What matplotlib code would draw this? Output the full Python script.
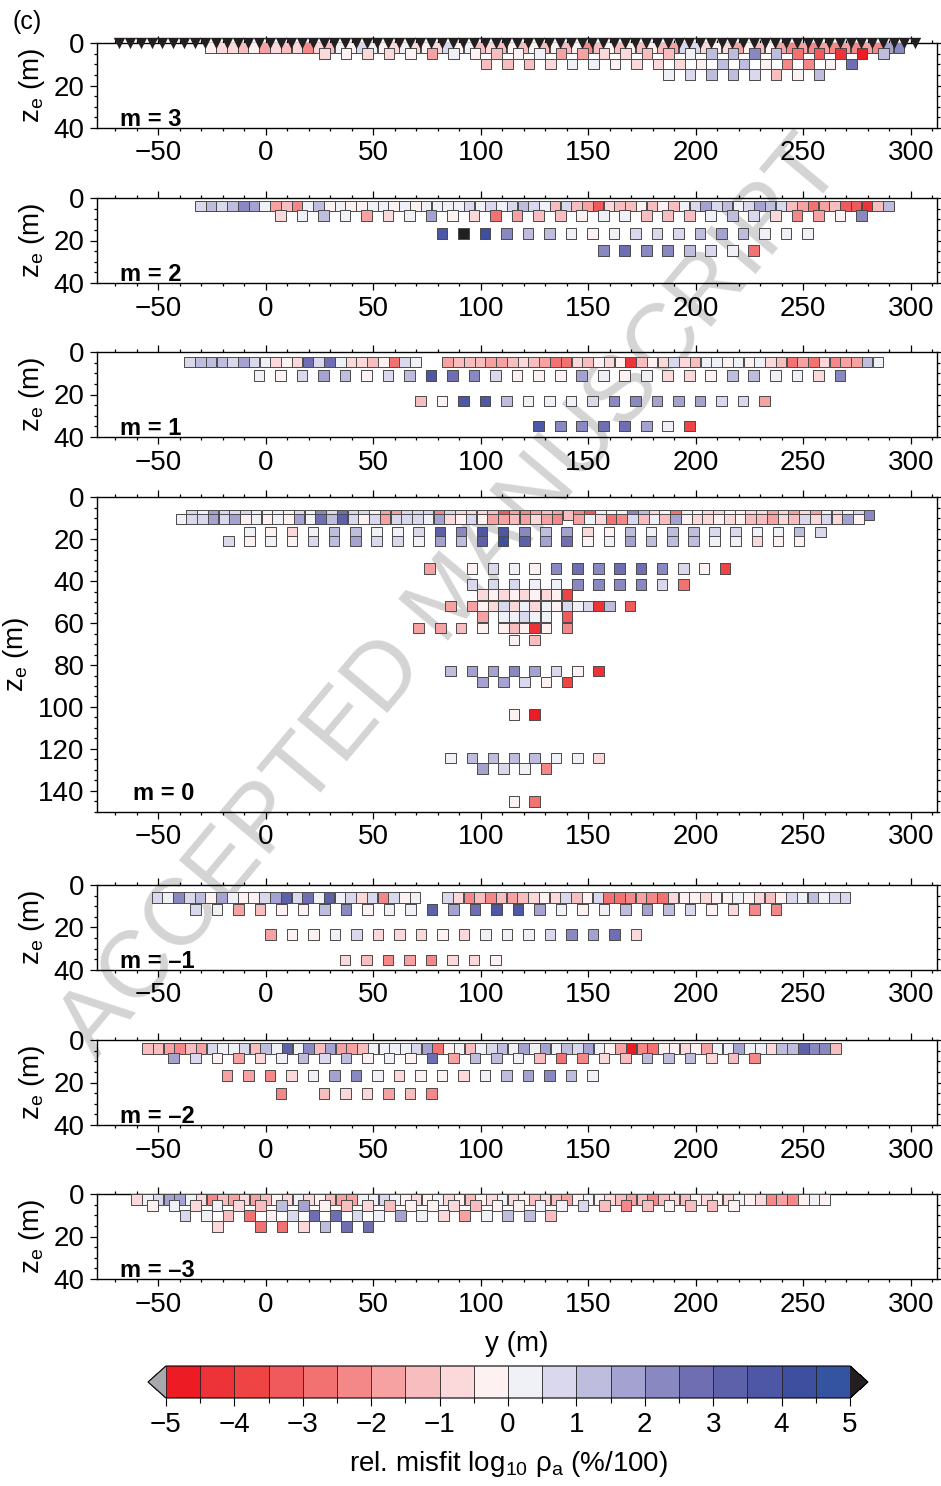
import numpy as np
import matplotlib
matplotlib.use("Agg")
import matplotlib.pyplot as plt
from matplotlib.colors import ListedColormap, BoundaryNorm
from matplotlib.cm import ScalarMappable

plt.rcParams['font.family'] = ['Liberation Sans', 'DejaVu Sans']
plt.rcParams['mathtext.fontset'] = 'custom'
plt.rcParams['mathtext.rm'] = 'Liberation Sans'
plt.rcParams['mathtext.it'] = 'Liberation Sans:italic'

nan = np.nan

# ---------------- colour scale ----------------
cbar_bounds = np.arange(-5, 5.01, 0.5)
cbar_ticks = np.arange(-5, 6, 1)
bin_colors = ['#ED1C24', '#EE3338', '#EF4444', '#F15A5D', '#F27171', '#F48888',
              '#F6A2A3', '#F8BDBE', '#FBD8D9', '#FDF1F2', '#F0F1F7', '#D9D8EC',
              '#BFBDDE', '#A4A2D0', '#8A88C1', '#6F6EB3', '#5D61AA', '#4D57A5',
              '#3F4F9F', '#3454A1']
under_color = '#A7A9AC'
over_color = '#231F20'

# ---------------- data: m = 3 ----------------
m3_electrodes = np.arange(-68, 303, 5)
m3_A = [-0.25, -0.75, -0.75, -1.25, -0.25, -1.75, -0.75, -1.25, -0.75, -2.25,
        -0.75, -1.25, 0.25, -0.25, 0.75, 0.25, -0.25, -0.75, 0.25, -0.75,
        -0.25, -0.75, 0.75, -0.25, 0.25, -1.25, -0.75, -1.25, -0.25,
        -1.25, -0.25, -1.25, -0.25, -1.25, -0.25, -2.25, -1.25, -0.25, -1.25,
        -0.25, -1.25, -0.25, -1.25, -1.75, 0.75, 0.75, -0.75, -0.25, -0.75,
        -1.75, -0.25, -1.25, -0.25, -1.75, -2.25, -1.75, -2.25, -1.75, -2.25,
        -1.75, -2.25, -1.75, -2.25, 1.75, 2.25]
m3_B = [-0.75, -0.25, -0.75, -0.75, -0.25, -1.75, 0.25, -0.25, -1.25, -0.25,
        0.25, -1.75, -1.75, -0.75, -0.75, -1.25, -1.25, 0.25, 1.25, 1.25,
        2.25, 1.25, -2.75, -3.25, -4.25, -4.75, 1.25]
m3_C = [-1.25, -1.25, -1.25, -0.75, 0.25, 0.25, -0.25, -0.75, -0.75, -0.75,
        -0.25, 1.25, 1.25, -0.25, -2.25, -2.25, -0.25, 2.75]
m3_D = [0.25, 0.75, 1.25, 1.25, 0.75, -1.25, -0.25, 1.25]

# ---------------- data: m = 2 ----------------
m2_A = [0.75, 1.25, 0.75, 1.25, 2.25, 1.75, 0.25, -1.75, -1.25, -2.25,
        0.25, 1.25, -0.25, 0.25, -0.25, -0.25, 0.25, 0.25, -0.25, 0.25,
        -0.25, 0.25, 0.25, 0.25, 0.25, 0.75, 0.25, 0.75, 0.25, 0.75,
        1.25, 0.75, 0.25, -1.25, 0.75, -1.25, -1.75, -3.25, -0.75, -1.25,
        -1.25, -0.25, -1.25, -0.25, -1.25, 0.25, 0.75, 1.75, 0.75, 1.25,
        0.25, 0.75, 1.75, 1.25, 0.75, -1.25, -1.75, -2.75, -1.75, -1.25,
        -3.25, -3.25, -4.25, -1.25, 1.25]
m2_B = [-0.75, 0.25, 1.25, 0.25, -1.75, -0.75, 0.25, 1.75, -0.25, -0.75,
        -2.75, -1.75, -1.25, -1.25, -0.25, 0.25, 0.25, -1.25, -1.25, -1.25,
        0.25, 1.25, 0.75, -0.75, -2.25, -1.75, -0.25, 2.25]
m2_C = [3.75, 5.5, 4.25, 2.25, 1.25, 1.25, 0.25, -0.25, 0.25, 0.75,
        0.75, 0.75, 1.25, 1.75, 1.25, 0.25, 0.25, 0.25]
m2_D = [2.25, 2.75, 2.25, 2.25, 1.25, 0.75, 0.25, -2.75]

# ---------------- data: m = 1 ----------------
m1_A = [0.75, 1.25, 1.25, 1.25, 0.75, 1.75, 0.75, 0.25, -0.75, -0.25,
        -0.75, 2.75, 0.75, 2.75, 0.25, -0.75, -0.75, -1.25, -0.25, -2.75,
        0.75, 0.25, nan, nan,
        -1.75, -1.25, -1.25, -1.25, -1.75, -1.75, -1.25,
        -0.75, -1.25, -1.75, -2.75, -2.75, -0.75, -1.25, -0.25, -0.75, -0.25,
        -4.25, -1.25, -0.25, -0.75, 0.75, -0.75, -1.25, 0.25, 0.25, -0.25,
        0.25, -0.25, 0.25, -0.75, -1.25, -2.75, -1.75, -2.75, -0.75, -2.25,
        -1.75, -1.75, 1.25, 0.25]
m1_B = [0.25, -0.25, 0.75, 1.75, 1.25, -0.25, 0.75, 1.25, 3.75, 2.75,
        2.25, 0.75, -0.25, -0.25, -0.25, 1.75, 0.25, -0.25, 0.25, -0.75,
        -0.75, -0.25, 1.25, 1.25, 0.25, 0.25, -0.75, 2.25]
m1_C = [-1.25, -0.25, 3.75, 3.75, 1.25, 0.25, 0.25, 0.25, 0.75, 2.25,
        2.25, 1.75, 1.75, 1.75, 0.75, 0.75, -1.75]
m1_D = [3.75, 2.25, 2.25, 2.75, 2.75, 1.75, 0.25, -3.75]

# ---------------- data: m = 0 ----------------
m0_A1 = [0.75, 0.25, 1.75, 0.75, 0.75, 0.75, 0.25, -0.25, 0.25, -0.25,
         0.75, 0.25, 2.25, 0.75, 2.75, 0.75, 0.75, -0.25, -1.75, -1.75,
         0.75, 0.75, 0.75, -2.25, 0.75, -0.75, -0.75, -0.75, -1.25, -3.25,
         -1.75, -2.25,
         -1.75, -1.25, -1.75, -1.25, -2.25, -3.25, 0.25, -0.25, 0.25, 2.25,
         1.25, -0.75, -0.25, -2.75, 0.25, -0.25, -0.75, -0.75, -0.25, -0.25,
         -0.75, -0.75, -1.75, -0.75, -1.75, -0.75, -1.75, 0.25, -0.75, 0.25,
         0.75, 2.25]
m0_A2 = [0.25, 0.75, 0.75, 1.75, 0.75, 1.75, -0.25, 0.25, -0.25, 0.25,
         -0.25, 1.75, 0.25, 2.75, 1.25, 3.25, 0.75, -0.25, 0.75, -1.75,
         0.75, 0.75, 0.75, 0.25, 1.75, -0.75, -0.25, 0.75, -0.25, -1.75,
         -1.75, -1.25,
         -1.75, -0.75, -1.75, -2.25, nan, -1.75, 0.25, -0.75, -2.75, -2.25,
         0.75, -1.25, 0.25, -1.25, 1.75, -0.25, -0.75, -0.75, -0.25, -0.75,
         -0.25, -1.25, -1.25, -1.75, -0.75, -1.25, 0.75, -0.75, 0.75, -0.75,
         1.75, -0.25]
m0_B1 = [0.25, -0.25, -0.75, 0.25, 1.25, 1.25, 0.25, 0.25, 0.75, 3.25,
         2.25, 3.75, 3.75, 2.25, 1.25, 1.75, -0.75, -0.25, 1.25, 0.25,
         1.25, 1.25, 0.75, 0.75, 0.25, 0.25, 1.25, 0.75]
m0_B2 = [0.75, -0.25, 0.25, -0.25, 0.75, 1.25, 1.75, 0.75, 0.75, 0.25,
         1.75, 1.25, 3.25, 4.25, 3.25, 1.75, 2.75, -0.25, 0.25, 1.75,
         1.25, 1.25, 1.25, 0.25, 0.25, -0.75, -0.25, -0.25]
# deeper data points of m = 0: horizontal positions (m), values
m0_C_y = [76.1, 95.9, 105.7, 115.5, 125.1, 135.1, 145.0, 154.8, 164.6, 174.5, 184.3, 194.3, 203.9, 213.7]
m0_C = [-1.75, -0.25, 0.75, 0.25, -0.25, 2.25, 2.75, 2.25, 2.75, 2.75, 2.25, 0.75, -0.25, -3.75]
m0_D_y = [95.9, 105.7, 115.5, 125.1, 135.1, 145.0, 154.8, 164.6, 174.5, 184.3, 194.3]
m0_D = [0.75, 0.75, 0.75, 0.25, 0.25, 2.25, 2.25, 2.25, 2.25, 0.75, -2.75]
m0_E_y = [100.9, 105.7, 110.6, 115.5, 120.4, 125.1, 130.3, 135.1, 140.1]
m0_E = [-0.75, -0.25, -0.75, -0.25, -0.75, -0.25, -0.75, -0.25, -3.75]
m0_F_y = [86.1, 95.9, 100.9, 105.7, 110.6, 115.5, 120.4, 125.1, 130.3, 135.1, 140.1, 145.0, 150.0, 154.8, 159.8, 169.5]
m0_F = [-1.75, -1.75, -0.25, -0.75, 0.75, -0.75, 0.25, -0.75, 0.25, -0.25, 0.75, 0.25, 0.75, -4.25, 1.25, -3.25]
m0_G1_y = [100.9, 110.6, 115.5, 120.4, 125.1, 130.3, 140.1]
m0_G1 = [-1.75, 0.25, 0.25, 0.75, 0.25, 0.25, -3.25]
m0_G_y = [71.1, 81.2, 90.8, 100.9, 110.6, 115.5, 120.4, 125.1, 130.3, 140.1]
m0_G = [-1.75, -1.75, -1.25, -0.25, -0.25, -1.25, -0.25, -4.25, -0.25, -2.25]
m0_H_y = [115.5, 125.1]
m0_H = [-0.25, -1.25]
m0_I_y = [86.1, 95.9, 105.7, 115.5, 125.1, 135.1, 145.0, 154.8]
m0_I = [1.25, 1.75, 1.75, 2.25, 1.75, 0.75, -0.25, -4.25]
m0_J_y = [100.9, 110.6, 120.4, 130.3, 140.1]
m0_J = [1.75, 1.75, 0.75, -0.25, -3.75]
m0_K_y = [115.5, 125.1]
m0_K = [-0.25, -4.75]
m0_L_y = [86.1, 95.9, 105.7, 115.5, 125.1, 135.1, 145.0, 154.8]
m0_L = [0.25, 1.25, 1.25, 1.25, 1.25, 0.25, 0.25, -0.75]
m0_M_y = [100.9, 110.6, 120.4, 130.3]
m0_M = [1.75, 0.75, 0.25, -2.25]
m0_N_y = [115.5, 125.1]
m0_N = [-0.25, -2.75]

# ---------------- data: m = -1 ----------------
mm1_A = [0.75, 0.25, 2.25, 0.75, 1.25, -0.25, 1.75, 0.25, -0.25, -0.25,
         0.75, 1.75, 3.25, 0.75, 2.75, 0.25, 3.25, 0.25, 0.75, -0.75,
         0.75, -2.25, 0.75, -0.25, 0.25, nan, nan,
         0.75, -0.75, -2.25, -1.25, -2.25, -1.25, -1.75, -1.25, -0.75, -0.25,
         -0.75, 0.75, -1.25, -0.25, 0.75, -2.75, -2.75, -2.25, -1.75, -2.25,
         -2.75, -0.75, -0.25, -0.25, -0.75, -0.25, -0.25, 0.25, -0.25, -0.75,
         -1.25, -0.25, 0.75, 0.25, 1.25, 0.25, 0.75, 0.75]
mm1_B = [0.75, 0.25, -1.75, -1.25, -0.25, -0.25, 1.25, 2.25, -0.25, 0.25,
         0.25, 3.25, 1.75, 2.75, 3.75, 3.75, 1.75, 0.25, -0.25, 0.25,
         1.25, 1.75, 1.25, 0.75, -0.25, -0.75, -2.25, -2.25]
mm1_C = [-1.75, -0.25, -0.25, 0.25, 0.75, -0.75, -0.75, -0.75, -0.25, -0.75,
         0.25, 0.25, 0.25, 0.75, 2.25, 1.75, 2.75, -0.75]
mm1_D = [-0.75, -1.25, -2.25, -1.75, -2.25, -0.75, -0.75, -0.25]

# ---------------- data: m = -2 ----------------
mm2_A = [-1.25, -1.25, -1.75, -2.25, -1.25, -1.75, 0.75, 0.25, 0.25, 0.75,
         -1.25, 1.25, 0.25, 3.25, 0.25, 2.25, -1.25, 1.75, -1.75, -1.75,
         -1.25, 0.25, 0.25, 0.25, 0.25, 0.75, 1.75, -2.75, -0.25, 0.25,
         -1.25, 0.25, 0.75, 1.25, 0.25, 1.75, 0.25, 1.75, 0.25, 1.25,
         0.75, 1.75, 0.25, -0.25, -1.75, -4.75, -2.25, -2.75, -0.25, -0.25,
         -0.75, -0.25, -1.75, 0.25, 0.25, 1.75, 0.25, 0.25, -0.75, 1.25,
         1.25, 3.25, 2.25, 2.25, -1.25]
mm2_B = [1.75, 0.75, -0.25, -1.75, -0.75, 0.25, 1.25, 0.75, 1.25, -0.25,
         0.25, -0.25, 2.75, -1.75, 1.25, 1.25, 0.25, -1.25, -2.75, -2.25,
         -0.75, -1.25, 1.25, 1.25, 1.25, -0.75, -1.25, -2.25]
mm2_C = [-1.75, -1.75, -2.25, -0.75, 0.25, 1.75, 2.25, 0.25, -0.75, -0.25,
         -0.25, -0.75, 0.25, 1.25, 1.75, 2.25, 1.25, 0.25]
mm2_D = [-2.25, nan, -1.25, -0.75, -0.75, -1.75, -1.25, -2.25]

# ---------------- data: m = -3 ----------------
mm3_A = [-0.75, 0.25, 0.75, 1.75, 1.75, 0.25, -0.75, -2.25, -1.25, -1.75,
         -0.75, -1.75, -1.25, -0.25, -0.75, 0.25, -0.75, -0.25, -1.25, -1.75,
         -1.75, 0.25, 0.25, 0.75, 0.25, -0.25, -0.75, -0.25, 0.25, -0.75,
         -0.25, -1.25, -0.25, -0.75, 0.25, -0.75, -0.25, -1.25, -0.75, -1.25,
         -1.75, -0.25, 0.25, -0.25, -0.75, -1.25, -1.75, -1.25, -2.25, -1.25,
         -0.75, -1.25, -0.25, -0.75, -0.25, -0.75, 0.25, -0.25, -0.75, -2.25,
         -1.75, -2.25, -0.25, 0.25, -0.25]
mm3_B = [-0.25, 0.25, -0.75, 0.25, -0.75, -1.25, 1.25, 1.75, -0.25, -1.25,
         -0.75, -1.25, -0.25, -0.25, -0.75, -1.25, -0.25, -0.25, 0.25, 0.25,
         0.75, -1.25, -2.25, -1.25, -0.25, -1.25, -1.25, -0.25]
mm3_C = [0.75, 0.25, -1.25, -2.75, -0.25, 0.75, 2.75, 2.75, 0.75, 0.25,
         1.75, 0.25, -0.75, -1.75, 0.25, 1.25, 1.25, -1.25]
mm3_D = [-0.75, nan, -2.75, -2.75, -0.75, 1.25, 2.75, 2.75]

# rows: (first position, spacing, depth, values)
panels = [
    (3, 40, [(-25.5, 5, 2.1, m3_A), (27.4, 10, 5.0, m3_B), (102.4, 10, 9.9, m3_C), (187.4, 10, 14.8, m3_D)], []),
    (2, 40, [(-30.4, 5, 3.8, m2_A), (7, 10, 8.2, m2_B), (82, 10, 16.6, m2_C), (157, 10, 24.8, m2_D)], []),
    (1, 40, [(-35.3, 5, 4.7, m1_A), (-3, 10, 11.1, m1_B), (72, 10, 23.1, m1_C), (127, 10, 34.9, m1_D)], []),
    (0, 150, [(-34.4, 5, 8.6, m0_A1), (-39.4, 5, 10.4, m0_A2), (-7.47, 9.83, 16.7, m0_B1), (-17.3, 9.83, 20.9, m0_B2)],
     [(m0_C_y, 34.1, m0_C), (m0_D_y, 41.7, m0_D), (m0_E_y, 46.5, m0_E), (m0_F_y, 51.8, m0_F),
      (m0_G1_y, 56.9, m0_G1), (m0_G_y, 62.4, m0_G), (m0_H_y, 68.0, m0_H), (m0_I_y, 82.9, m0_I),
      (m0_J_y, 88.0, m0_J), (m0_K_y, 103.7, m0_K), (m0_L_y, 124.3, m0_L), (m0_M_y, 129.3, m0_M),
      (m0_N_y, 145.0, m0_N)]),
    (-1, 40, [(-50.5, 5, 5.9, mm1_A), (-32.6, 10, 11.6, mm1_B), (2.2, 10, 23.4, mm1_C), (37, 10, 35.2, mm1_D)], []),
    (-2, 40, [(-55, 5, 4.1, mm2_A), (-42.7, 10, 8.4, mm2_B), (-18, 10, 16.7, mm2_C), (7.2, 10, 25.1, mm2_D)], []),
    (-3, 40, [(-60, 5, 2.5, mm3_A), (-52.5, 10, 5.3, mm3_B), (-37.4, 10, 10.0, mm3_C), (-22.3, 10, 15.2, mm3_D)], []),
]

# ---------------- figure ----------------
W, H = 941, 1486
fig = plt.figure(figsize=(W / 100, H / 100), dpi=100)
cmap = ListedColormap(bin_colors)
cmap.set_under(under_color)
cmap.set_over(over_color)
norm = BoundaryNorm(cbar_bounds, cmap.N)

frames = {3: (43, 128), 2: (198, 283), 1: (352, 437), 0: (497, 812),
          -1: (885, 970), -2: (1040, 1125), -3: (1194, 1279)}
LEFT, RIGHT = 97, 937
MS = 7.6
EDGE = '#4a4a4a'
FS = 20


def scatter_row(ax, xs, z, vals):
    v = np.asarray(vals, float)
    xs = np.asarray(xs, float)
    ok = ~np.isnan(v)
    ax.scatter(xs[ok], np.full(ok.sum(), z), c=v[ok], cmap=cmap, norm=norm,
               marker='s', s=MS ** 2, edgecolors=EDGE, linewidths=0.7, zorder=3)


axes = []
for m, zmax, rows, extra in panels:
    top, bot = frames[m]
    ax = fig.add_axes([LEFT / W, 1 - bot / H, (RIGHT - LEFT) / W, (bot - top) / H])
    ax.set_facecolor('none')
    axes.append(ax)
    for x0, dx, z, vals in rows:
        xs = x0 + dx * np.arange(len(vals))
        scatter_row(ax, xs, z, vals)
    for xs, z, vals in extra:
        scatter_row(ax, xs, z, vals)
    if m == 3:
        ax.scatter(m3_electrodes, np.zeros(len(m3_electrodes)), marker='v', s=8.2 ** 2,
                   c='#231F20', linewidths=0, clip_on=False, zorder=6)
    ax.set_xlim(-78.4, 312.2)
    ax.set_ylim(zmax, 0)
    ax.set_xticks(np.arange(-50, 301, 50))
    ax.set_xticks(np.arange(-70, 311, 10), minor=True)
    ax.set_yticks(np.arange(0, zmax + 1, 20))
    ax.set_yticks(np.arange(0, zmax + 1, 5), minor=True)
    ax.tick_params(which='both', direction='out', top=True, right=True,
                   labeltop=False, labelright=False, width=0.9, labelsize=FS)
    ax.tick_params(which='major', length=5, pad=4)
    ax.tick_params(which='minor', length=2.5)
    for s in ax.spines.values():
        s.set_linewidth(1.0)
    ax.set_ylabel('z$_\\mathregular{e}$ (m)', fontsize=FS, labelpad=5)
    lab = 'm = %d' % m if m >= 0 else 'm = \u2013%d' % (-m)
    ypos = 0.038 if m == 0 else 0.024
    xpos = 0.043 if m == 0 else 0.027
    ax.text(xpos, ypos, lab, transform=ax.transAxes, fontsize=17,
            fontweight='bold', ha='left', va='baseline', zorder=7)

axes[-1].set_xlabel('y (m)', fontsize=FS, labelpad=10)

fig.text(12 / W, 1 - 22 / H, '(c)', fontsize=18, ha='left', va='center')

# watermark
fig.text(452 / W, 1 - 598 / H, 'ACCEPTED MANUSCRIPT', rotation=50, fontsize=68,
         color='#d4d4d4', ha='center', va='center', zorder=-10)

# colour bar (box includes the end triangles)
cax = fig.add_axes([148 / W, 1 - 1398 / H, 720 / W, 32 / H])
sm = ScalarMappable(norm=norm, cmap=cmap)
cb = fig.colorbar(sm, cax=cax, orientation='horizontal', extend='both',
                  extendfrac=18 / 685, drawedges=True, ticks=cbar_ticks)
cb.dividers.set_color('#231F20')
cb.dividers.set_linewidth(0.6)
cb.outline.set_linewidth(0.8)
cax.set_xticks(np.arange(-4.5, 5, 1), minor=True)
cax.tick_params(which='both', direction='out', labelsize=FS, width=0.8)
cax.tick_params(which='major', length=6, pad=4)
cax.tick_params(which='minor', length=3.5)
cb.set_label('rel. misfit log$_\\mathregular{10}$ \u03c1$_\\mathregular{a}$ (%/100)',
             fontsize=FS, labelpad=8)

fig.savefig('out.png', dpi=100)
